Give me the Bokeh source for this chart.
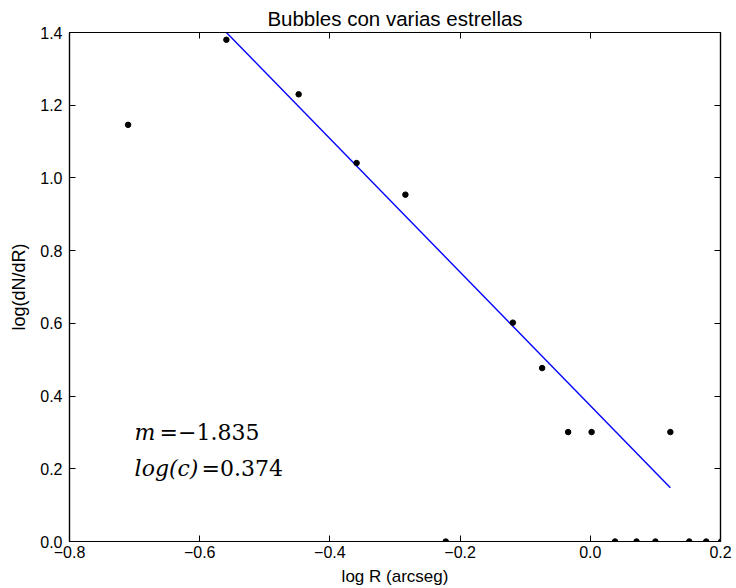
from bokeh.plotting import figure
from bokeh.models import FixedTicker, LinearAxis, Label, Range1d
from bokeh.embed import file_html
from bokeh.resources import INLINE

# data
log_r = [-0.710, -0.559, -0.448, -0.359, -0.284, -0.119, -0.074, -0.034, 0.002, 0.123,
         -0.222, 0.038, 0.071, 0.100, 0.152, 0.178, 0.201]
log_dn = [1.146, 1.380, 1.230, 1.041, 0.954, 0.602, 0.477, 0.301, 0.301, 0.301,
          0.0, 0.0, 0.0, 0.0, 0.0, 0.0, 0.0]
fit_x = [-0.559, 0.123]
fit_y = [1.400, 0.148]
slope_text = "=\u22121.835"
icpt_text = "=0.374"

x_ticks = [-0.8, -0.6, -0.4, -0.2, 0.0, 0.2]
x_tick_labels = ["\u22120.8", "\u22120.6", "\u22120.4", "\u22120.2", "0.0", "0.2"]
y_ticks = [0.0, 0.2, 0.4, 0.6, 0.8, 1.0, 1.2, 1.4]
y_tick_labels = ["0.0", "0.2", "0.4", "0.6", "0.8", "1.0", "1.2", "1.4"]

FONT = "Liberation Sans"

p = figure(width=736, height=588, output_backend="svg", toolbar_location=None,
           x_range=Range1d(-0.8, 0.2), y_range=Range1d(0.0, 1.4),
           min_border_left=69, min_border_right=16, min_border_top=32, min_border_bottom=47,
           title="Bubbles con varias estrellas")
p.title.align = "center"
p.title.text_font = FONT
p.title.text_font_style = "normal"
p.title.text_font_size = "20.5px"
p.title.text_color = "black"
p.title.offset = 0
p.title.standoff = 5
p.xgrid.visible = False
p.ygrid.visible = False
p.outline_line_color = "black"
p.outline_line_width = 1.2
p.background_fill_color = "white"
p.border_fill_color = "white"

def style_axis(ax, ticks, labels, show_labels=True):
    ax.ticker = FixedTicker(ticks=ticks)
    ax.major_label_overrides = {t: l for t, l in zip(ticks, labels)}
    ax.major_tick_in = 6
    ax.major_tick_out = 0
    ax.minor_tick_in = 0
    ax.minor_tick_out = 0
    ax.axis_line_color = "black"
    ax.axis_line_width = 1.2
    ax.major_tick_line_color = "black"
    ax.major_label_text_font = FONT
    ax.major_label_text_font_size = "16px"
    ax.major_label_text_color = "black" if show_labels else None
    ax.major_label_standoff = 4
    ax.axis_label_text_font = FONT
    ax.axis_label_text_font_size = "17px"
    ax.axis_label_text_font_style = "normal"
    ax.axis_label_text_color = "black"

style_axis(p.xaxis[0], x_ticks, x_tick_labels)
style_axis(p.yaxis[0], y_ticks, y_tick_labels)
p.xaxis[0].axis_label = "log R (arcseg)"
p.yaxis[0].axis_label = "log(dN/dR)"
p.yaxis[0].axis_label_text_font_size = "18px"
p.yaxis[0].major_label_standoff = 7
p.xaxis[0].axis_label_standoff = 6
p.yaxis[0].axis_label_standoff = 8

top_ax = LinearAxis()
style_axis(top_ax, x_ticks, x_tick_labels, show_labels=False)
p.add_layout(top_ax, "above")
right_ax = LinearAxis()
style_axis(right_ax, y_ticks, y_tick_labels, show_labels=False)
p.add_layout(right_ax, "right")
top_ax.major_label_text_font_size = "0px"
right_ax.major_label_text_font_size = "0px"
top_ax.major_label_standoff = 0
right_ax.major_label_standoff = 0

p.line(fit_x, fit_y, line_color="#0000ff", line_width=1.4)
p.scatter(log_r, log_dn, size=5.5, fill_color="black", line_color="black")

for yv, ital, rest, off in [(0.3, "m", slope_text, 25), (0.2, "log(c)", icpt_text, 67)]:
    p.add_layout(Label(x=-0.7, y=yv, text=ital, text_font="DejaVu Serif",
                       text_font_style="italic", text_font_size="22px",
                       text_baseline="alphabetic", text_color="black"))
    p.add_layout(Label(x=-0.7, y=yv, x_offset=off, text=rest, text_font="DejaVu Serif",
                       text_font_size="22px", text_baseline="alphabetic",
                       text_color="black"))

open("out.html", "w").write(file_html(p, INLINE))
